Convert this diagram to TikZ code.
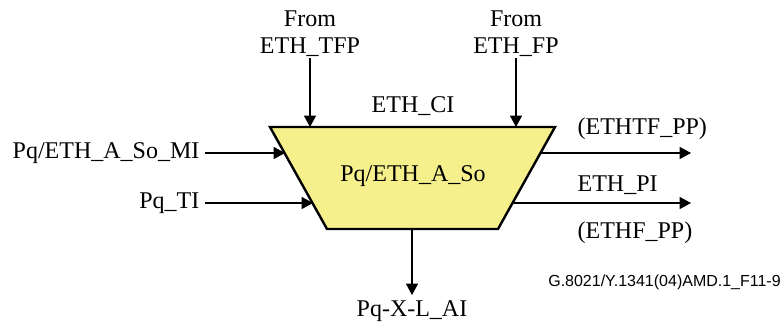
\documentclass[tikz,border=0pt]{standalone}
\usepackage{fontspec}
\setmainfont{Liberation Serif}
\newfontfamily\figfont{Liberation Sans}
\usepackage{tikz}
\usetikzlibrary{arrows.meta}
\definecolor{funcyellow}{RGB}{245,240,140}
\tikzset{
  sig/.style={draw, line width=0.9pt, -{Triangle[length=8.5pt,width=9pt]}},
  lbl/.style={font=\fontsize{18}{20}\selectfont, inner sep=1pt},
}

\begin{document}
\begin{tikzpicture}[x=0.75pt,y=-0.75pt]
\useasboundingbox (0,0) rectangle (782,326);
% Function block
\draw[line width=1.8pt, fill=funcyellow] (270,127) -- (555,127) -- (498,229) -- (327,229) -- cycle;
\node[lbl] (blk) at (413,176) {Pq/ETH\_A\_So};
% Top inputs
\node[lbl, align=center, anchor=south] (tfp) at (310,58) {From\\ETH\_TFP};
\node[lbl, align=center, anchor=south] (fp) at (516,58) {From\\ETH\_FP};
\coordinate (tfpin) at (310,127);
\coordinate (fpin) at (516,127);
\draw[sig] (tfp) -- (tfpin);
\draw[sig] (fp) -- (fpin);
\node[lbl] (ci) at (413,106) {ETH\_CI};
% Left inputs
\node[lbl, anchor=east] (mi) at (201,153) {Pq/ETH\_A\_So\_MI};
\node[lbl, anchor=east] (ti) at (201,203) {Pq\_TI};
\coordinate (miin) at (285,153);
\coordinate (tiin) at (313,203);
\draw[sig, shorten <=3pt] (mi) -- (miin);
\draw[sig, shorten <=3pt] (ti) -- (tiin);
% Right outputs
\coordinate (ppout) at (541,153);
\coordinate (piout) at (513,203);
\coordinate (ppend) at (691,153);
\coordinate (piend) at (691,203);
\draw[sig] (ppout) -- (ppend);
\draw[sig] (piout) -- (piend);
\node[lbl, anchor=west] (ethtf) at (576,129) {(ETHTF\_PP)};
\node[lbl, anchor=west] (ethpi) at (576,185) {ETH\_PI};
\node[lbl, anchor=west] (ethf) at (576,233) {(ETHF\_PP)};
% Bottom output
\coordinate (aiout) at (412,229);
\node[lbl, anchor=north] (ai) at (412,299) {Pq-X-L\_AI};
\draw[sig, shorten >=3pt] (aiout) -- (ai);
% Figure tag
\node[font=\figfont\fontsize{12}{13}\selectfont, anchor=east, inner sep=0pt] (tag) at (781,282) {G.8021/Y.1341(04)AMD.1\_F11-9};
\end{tikzpicture}
\end{document}
